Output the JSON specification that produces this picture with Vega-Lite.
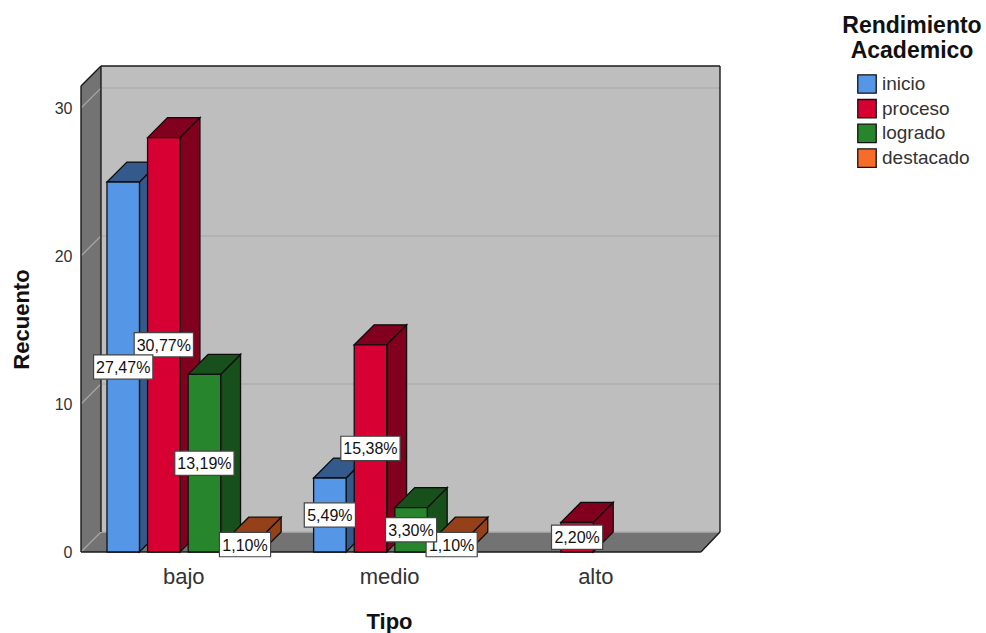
{
  "$schema": "https://vega.github.io/schema/vega-lite/v6.json",
  "width": 639,
  "height": 486,
  "autosize": "none",
  "padding": {"left": 81, "top": 66, "right": 266, "bottom": 81},
  "background": "white",
  "config": {"view": {"stroke": null}, "font": "Liberation Sans"},
  "datasets": {
    "recuentos": [
      {"tipo": "bajo", "rendimiento": "inicio", "recuento": 25, "etiqueta": "27,47%"},
      {"tipo": "bajo", "rendimiento": "proceso", "recuento": 28, "etiqueta": "30,77%"},
      {"tipo": "bajo", "rendimiento": "logrado", "recuento": 12, "etiqueta": "13,19%"},
      {"tipo": "bajo", "rendimiento": "destacado", "recuento": 1, "etiqueta": "1,10%"},
      {"tipo": "medio", "rendimiento": "inicio", "recuento": 5, "etiqueta": "5,49%"},
      {"tipo": "medio", "rendimiento": "proceso", "recuento": 14, "etiqueta": "15,38%"},
      {"tipo": "medio", "rendimiento": "logrado", "recuento": 3, "etiqueta": "3,30%"},
      {"tipo": "medio", "rendimiento": "destacado", "recuento": 1, "etiqueta": "1,10%"},
      {"tipo": "alto", "rendimiento": "proceso", "recuento": 2, "etiqueta": "2,20%"}
    ],
    "marcas_eje": [{"recuento": 0}, {"recuento": 10}, {"recuento": 20}, {"recuento": 30}]
  },
  "encoding": {
    "x": {
      "field": "px", "type": "quantitative",
      "scale": {"domain": [-0.64, 15.1], "nice": false, "zero": false},
      "axis": {
        "title": "Tipo", "titleFontSize": 22, "titleFontWeight": "bold", "titleColor": "#111",
        "titleX": 308, "titleY": 59,
        "values": [1.88, 6.95, 12.03],
        "labelExpr": "datum.value < 5 ? 'bajo' : datum.value < 10 ? 'medio' : 'alto'",
        "labelFontSize": 22, "labelColor": "#333", "labelPadding": 14,
        "domain": false, "ticks": false, "grid": false
      }
    },
    "y": {
      "field": "py", "type": "quantitative",
      "scale": {"domain": [0, 32.84], "nice": false},
      "axis": {
        "title": "Recuento", "titleFontSize": 22, "titleFontWeight": "bold", "titleColor": "#111",
        "titleX": -48, "titleY": 253,
        "values": [0, 10, 20, 30],
        "labelFontSize": 16, "labelColor": "#333", "labelPadding": 9,
        "domain": false, "ticks": false, "grid": false
      }
    }
  },
  "layer": [
    {
      "description": "Pared del fondo",
      "data": {"values": [{"t": 0}]},
      "transform": [
        {"calculate": "-0.148", "as": "px"},
        {"calculate": "15.1", "as": "px2"},
        {"calculate": "1.35", "as": "py"},
        {"calculate": "32.84", "as": "py2"}
      ],
      "mark": {"type": "rect", "fill": "#BEBEBE"},
      "encoding": {"x2": {"field": "px2"}, "y2": {"field": "py2"}}
    },
    {
      "description": "Pared izquierda",
      "data": {"values": [{"t": 0}, {"t": 1}]},
      "transform": [
        {"calculate": "-0.64 + datum.t * 0.492", "as": "px"},
        {"calculate": "31.49 + datum.t * 1.35", "as": "py"},
        {"calculate": "datum.t * 1.35", "as": "py2"}
      ],
      "mark": {"type": "area", "fill": "#737373"},
      "encoding": {"y2": {"field": "py2"}}
    },
    {
      "description": "Suelo",
      "data": {"values": [{"t": 0}, {"t": 1}, {"t": 2}, {"t": 3}]},
      "transform": [
        {"calculate": "[-0.64, -0.148, 14.63, 15.1][datum.t]", "as": "px"},
        {"calculate": "datum.t > 0 ? 1.35 : 0", "as": "py"},
        {"calculate": "datum.t > 2 ? 1.35 : 0", "as": "py2"}
      ],
      "mark": {"type": "area", "fill": "#737373"},
      "encoding": {"y2": {"field": "py2"}}
    },
    {
      "description": "Lineas de cuadricula en el fondo",
      "data": {"name": "marcas_eje"},
      "transform": [
        {"calculate": "-0.148", "as": "px"},
        {"calculate": "15.1", "as": "px2"},
        {"calculate": "datum.recuento + 1.35", "as": "py"}
      ],
      "mark": {"type": "rule", "stroke": "#AEAEAE", "strokeWidth": 1.5},
      "encoding": {"x2": {"field": "px2"}}
    },
    {
      "description": "Lineas de cuadricula en la pared izquierda",
      "data": {"name": "marcas_eje"},
      "transform": [
        {"calculate": "-0.64", "as": "px"},
        {"calculate": "-0.148", "as": "px2"},
        {"calculate": "datum.recuento", "as": "py"},
        {"calculate": "datum.recuento + 1.35", "as": "py2"}
      ],
      "mark": {"type": "rule", "stroke": "#A8A8A8", "strokeWidth": 1.2},
      "encoding": {"x2": {"field": "px2"}, "y2": {"field": "py2"}}
    },
    {
      "description": "Contorno de las paredes: techo, aristas verticales, frente del suelo y diagonales",
      "data": {"values": [{"t": 0}, {"t": 1}, {"t": 2}, {"t": 3}, {"t": 4}, {"t": 5}, {"t": 6}]},
      "transform": [
        {"calculate": "[-0.148, -0.148, 15.1, -0.64, -0.64, -0.64, 14.63][datum.t]", "as": "px"},
        {"calculate": "[15.1, -0.148, 15.1, -0.64, -0.148, 14.63, 15.1][datum.t]", "as": "px2"},
        {"calculate": "[32.84, 1.35, 1.35, 0, 31.49, 0, 0][datum.t]", "as": "py"},
        {"calculate": "[32.84, 32.84, 32.84, 31.49, 32.84, 0, 1.35][datum.t]", "as": "py2"}
      ],
      "mark": {"type": "rule", "stroke": "#1A1A1A", "strokeWidth": 1.4},
      "encoding": {"x2": {"field": "px2"}, "y2": {"field": "py2"}}
    },
    {
      "description": "Barras con caras lateral, superior y frontal",
      "data": {"name": "recuentos"},
      "transform": [
        {"calculate": "indexof(['bajo', 'medio', 'alto'], datum.tipo) * 5.09 + indexof(['inicio', 'proceso', 'logrado', 'destacado'], datum.rendimiento)", "as": "x0"},
        {"calculate": "datum.tipo + datum.rendimiento", "as": "barra"}
      ],
      "layer": [
        {
          "description": "Caras laterales",
          "transform": [
            {"calculate": "[0, 1]", "as": "t"},
            {"flatten": ["t"]},
            {"calculate": "datum.x0 + 0.8 + datum.t * 0.49", "as": "px"},
            {"calculate": "datum.recuento + datum.t * 1.35", "as": "py"},
            {"calculate": "datum.t * 1.35", "as": "py2"}
          ],
          "layer": [
            {
              "mark": {"type": "area", "stroke": "#111", "strokeWidth": 1.3},
              "encoding": {
                "y2": {"field": "py2"},
                "detail": {"field": "barra"},
                "fill": {
                  "field": "rendimiento", "type": "nominal",
                  "scale": {"domain": ["inicio", "proceso", "logrado", "destacado"], "range": ["#5596E6", "#D60032", "#27862C", "#F76C28"]},
                  "legend": {
                    "orient": "none", "legendX": 761, "legendY": -51,
                    "title": ["Rendimiento", "Academico"],
                    "titleFontSize": 23, "titleFontWeight": "bold", "titleColor": "#111",
                    "titleAlign": "center", "titleAnchor": "middle", "titleLineHeight": 25, "titlePadding": 11,
                    "symbolType": "square", "symbolSize": 340, "symbolStrokeColor": "#222", "symbolStrokeWidth": 1.3,
                    "symbolOffset": 3,
                    "labelFontSize": 19, "labelColor": "#333", "labelOffset": 5, "rowPadding": 0.7
                  }
                }
              }
            },
            {
              "description": "Sombra de la cara lateral",
              "mark": {"type": "area", "fill": "#000", "fillOpacity": 0.4},
              "encoding": {"y2": {"field": "py2"}, "detail": {"field": "barra"}}
            }
          ]
        },
        {
          "description": "Caras superiores",
          "transform": [
            {"calculate": "[0, 1, 2, 3]", "as": "t"},
            {"flatten": ["t"]},
            {"calculate": "datum.x0 + [0, 0.49, 0.8, 1.29][datum.t]", "as": "px"},
            {"calculate": "datum.recuento + (datum.t > 0 ? 1.35 : 0)", "as": "py"},
            {"calculate": "datum.recuento + (datum.t > 2 ? 1.35 : 0)", "as": "py2"}
          ],
          "layer": [
            {
              "mark": {"type": "area", "stroke": "#111", "strokeWidth": 1.3},
              "encoding": {
                "y2": {"field": "py2"},
                "detail": {"field": "barra"},
                "fill": {"field": "rendimiento", "type": "nominal"}
              }
            },
            {
              "description": "Sombra de la cara superior",
              "mark": {"type": "area", "fill": "#000", "fillOpacity": 0.4},
              "encoding": {"y2": {"field": "py2"}, "detail": {"field": "barra"}}
            }
          ]
        },
        {
          "description": "Caras frontales",
          "transform": [
            {"calculate": "datum.x0", "as": "px"},
            {"calculate": "datum.x0 + 0.8", "as": "px2"},
            {"calculate": "datum.recuento", "as": "py"},
            {"calculate": "0", "as": "py2"}
          ],
          "mark": {"type": "rect", "stroke": "#111", "strokeWidth": 1.3},
          "encoding": {
            "x2": {"field": "px2"},
            "y2": {"field": "py2"},
            "fill": {"field": "rendimiento", "type": "nominal"}
          }
        },
        {
          "description": "Etiquetas de porcentaje, primero las que quedan debajo",
          "transform": [
            {"filter": {"field": "rendimiento", "oneOf": ["destacado", "proceso"]}},
            {"calculate": "datum.x0 + 0.4", "as": "cx"},
            {"calculate": "length(datum.etiqueta) > 5 ? 0.73 : 0.63", "as": "ancho"},
            {"calculate": "datum.recuento / 2", "as": "py"},
            {"calculate": "datum.cx - datum.ancho", "as": "px"},
            {"calculate": "datum.cx + datum.ancho", "as": "px2"},
            {"calculate": "datum.py - 0.82", "as": "py1"},
            {"calculate": "datum.py + 0.82", "as": "py2"}
          ],
          "layer": [
            {
              "mark": {"type": "rect", "fill": "white", "stroke": "#444", "strokeWidth": 1.2},
              "encoding": {"x2": {"field": "px2"}, "y": {"field": "py1", "type": "quantitative"}, "y2": {"field": "py2"}}
            },
            {
              "mark": {"type": "text", "fontSize": 16, "color": "#111", "align": "center", "baseline": "middle", "dy": 1},
              "encoding": {"x": {"field": "cx", "type": "quantitative"}, "text": {"field": "etiqueta"}}
            }
          ]
        },
        {
          "description": "Etiquetas de porcentaje que quedan encima",
          "transform": [
            {"filter": {"field": "rendimiento", "oneOf": ["inicio", "logrado"]}},
            {"calculate": "datum.x0 + 0.4", "as": "cx"},
            {"calculate": "length(datum.etiqueta) > 5 ? 0.73 : 0.63", "as": "ancho"},
            {"calculate": "datum.recuento / 2", "as": "py"},
            {"calculate": "datum.cx - datum.ancho", "as": "px"},
            {"calculate": "datum.cx + datum.ancho", "as": "px2"},
            {"calculate": "datum.py - 0.82", "as": "py1"},
            {"calculate": "datum.py + 0.82", "as": "py2"}
          ],
          "layer": [
            {
              "mark": {"type": "rect", "fill": "white", "stroke": "#444", "strokeWidth": 1.2},
              "encoding": {"x2": {"field": "px2"}, "y": {"field": "py1", "type": "quantitative"}, "y2": {"field": "py2"}}
            },
            {
              "mark": {"type": "text", "fontSize": 16, "color": "#111", "align": "center", "baseline": "middle", "dy": 1},
              "encoding": {"x": {"field": "cx", "type": "quantitative"}, "text": {"field": "etiqueta"}}
            }
          ]
        }
      ]
    }
  ]
}
